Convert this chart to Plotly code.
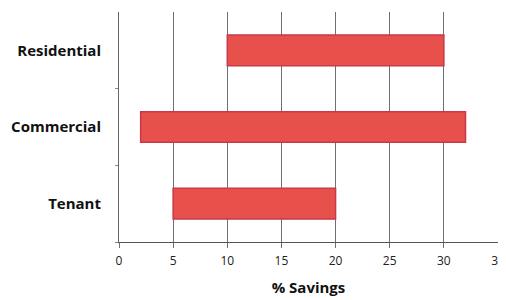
import plotly.graph_objects as go

categories = ["Residential", "Commercial", "Tenant"]
low_values = [10, 2, 5]
high_values = [30, 32, 20]
x_ticks = [0, 5, 10, 15, 20, 25, 30, 35]

widths = [h - l for h, l in zip(high_values, low_values)]

fig = go.Figure()
fig.add_trace(go.Bar(
    y=categories,
    x=widths,
    base=low_values,
    orientation="h",
    width=0.4,
    marker=dict(color="#E8504C", line=dict(color="#C8394A", width=1.5)),
))

fig.update_layout(
    width=498, height=292,
    margin=dict(l=111, r=8, t=4, b=58, autoexpand=False),
    paper_bgcolor="white", plot_bgcolor="white",
    showlegend=False,
    font=dict(family="Open Sans, DejaVu Sans, sans-serif", color="#222"),
)
fig.update_xaxes(
    range=[0, 35], tickvals=x_ticks, ticktext=[str(t) for t in x_ticks],
    showgrid=True, gridcolor="#707070", gridwidth=1,
    showline=True, linecolor="#555", linewidth=1,
    ticks="outside", ticklen=5, tickcolor="#707070",
    ticklabelstandoff=3, ticklabeloverflow="allow",
    tickfont=dict(size=12, color="#222"),
    title=dict(text="<b>% Savings</b>", font=dict(size=15, color="#111"), standoff=14),
    zeroline=False, automargin=False,
)
fig.update_yaxes(
    categoryorder="array", categoryarray=categories[::-1],
    showgrid=False, showline=True, linecolor="#666", linewidth=1,
    ticks="outside", ticklen=3, tickcolor="#888", tickson="boundaries",
    tickfont=dict(size=15, color="#111"),
    ticklabelstandoff=14, automargin=False,
    tickvals=categories, ticktext=["<b>%s</b>" % c for c in categories],
)

fig.write_html("out.html")
